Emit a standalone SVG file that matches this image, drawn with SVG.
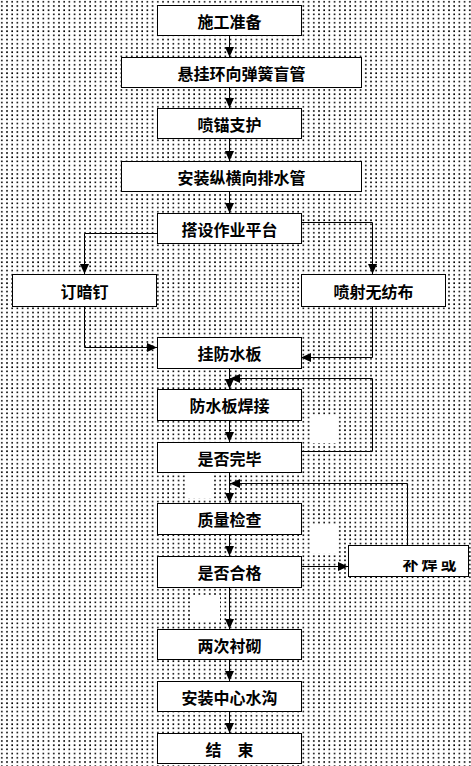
<svg xmlns="http://www.w3.org/2000/svg" width="471" height="766" viewBox="0 0 471 766">
<style>
.box{fill:#fff;stroke:#000;stroke-width:1}
.t{font-family:"Noto Sans CJK SC","Liberation Sans",sans-serif;font-size:16px;font-weight:bold;fill:#000;text-anchor:middle;dominant-baseline:central}
.ca{fill:none;stroke:#000;stroke-width:1;marker-end:url(#arr)}
.patch{fill:#fff}
</style>
<defs>
<pattern id="dots" x="0" y="0" width="5.2" height="4.2" patternUnits="userSpaceOnUse">
<rect x="1" y="1" width="1.6" height="1.6" fill="#000"/>
</pattern>
<marker id="arr" markerUnits="userSpaceOnUse" markerWidth="10" markerHeight="10" refX="10" refY="5" orient="auto" viewBox="0 0 10 10">
<path d="M0,0.5 L10,5 L0,9.5 z" fill="#000"/>
</marker>
<clipPath id="clipBu"><rect x="349" y="560" width="118" height="15"/></clipPath>
</defs>
<rect x="0" y="0" width="471" height="766" fill="#fff"/>
<rect x="0" y="0" width="471" height="766" fill="url(#dots)"/>
<rect class="patch" x="312" y="416" width="24" height="27"/>
<rect class="patch" x="187" y="472" width="27" height="26"/>
<rect class="patch" x="310" y="525" width="27" height="28"/>
<rect class="patch" x="193" y="595" width="27" height="27"/>
<g id="connectors">
<path class="ca" d="M229.5,35 V57"/>
<path class="ca" d="M229.5,87 V108"/>
<path class="ca" d="M229.5,139 V161"/>
<path class="ca" d="M229.5,191 V213"/>
<path class="ca" d="M157,233.5 H84.5 V274"/>
<path class="ca" d="M301,222.5 H372.5 V274"/>
<path class="ca" d="M84.5,306 V347.5 H157"/>
<path class="ca" d="M372.5,306 V357.5 H301"/>
<path class="ca" d="M229.5,368 V389"/>
<path class="ca" d="M229.5,420 V442"/>
<path class="ca" d="M301,451.5 H372.5 V378.5 H230"/>
<path class="ca" d="M229.5,472 V503"/>
<path class="ca" d="M407.5,545 V483.5 H230"/>
<path class="ca" d="M229.5,534 V556"/>
<path class="ca" d="M301,566.5 H348"/>
<path class="ca" d="M229.5,587 V629"/>
<path class="ca" d="M229.5,659 V681"/>
<path class="ca" d="M229.5,711 V733"/>
</g>
<g id="n1"><rect class="box" x="157.5" y="5.5" width="144" height="30"/><text class="t" x="229.5" y="21">施工准备</text></g>
<g id="n2"><rect class="box" x="121.5" y="57.5" width="240" height="30"/><text class="t" x="241.5" y="73">悬挂环向弹簧盲管</text></g>
<g id="n3"><rect class="box" x="157.5" y="108.5" width="144" height="30"/><text class="t" x="229.5" y="124">喷锚支护</text></g>
<g id="n4"><rect class="box" x="121.5" y="161.5" width="240" height="30"/><text class="t" x="241.5" y="177">安装纵横向排水管</text></g>
<g id="n5"><rect class="box" x="157.5" y="213.5" width="144" height="30"/><text class="t" x="229.5" y="229">搭设作业平台</text></g>
<g id="n6"><rect class="box" x="12.5" y="274.5" width="144" height="32"/><text class="t" x="84.5" y="291">订暗钉</text></g>
<g id="n7"><rect class="box" x="301.5" y="274.5" width="144" height="32"/><text class="t" x="373.5" y="291">喷射无纺布</text></g>
<g id="n8"><rect class="box" x="157.5" y="337.5" width="144" height="31"/><text class="t" x="229.5" y="353">挂防水板</text></g>
<g id="n9"><rect class="box" x="157.5" y="389.5" width="144" height="31"/><text class="t" x="229.5" y="405">防水板焊接</text></g>
<g id="n10"><rect class="box" x="157.5" y="442.5" width="144" height="30"/><text class="t" x="229.5" y="458">是否完毕</text></g>
<g id="n11"><rect class="box" x="157.5" y="503.5" width="144" height="31"/><text class="t" x="229.5" y="519">质量检查</text></g>
<g id="n12"><rect class="box" x="157.5" y="556.5" width="144" height="31"/><text class="t" x="229.5" y="572">是否合格</text></g>
<g id="n13"><rect class="box" x="348.5" y="545.5" width="120" height="31"/><text class="t" x="431" y="563" clip-path="url(#clipBu)" letter-spacing="3">补焊或</text></g>
<g id="n14"><rect class="box" x="157.5" y="629.5" width="144" height="30"/><text class="t" x="229.5" y="645">两次衬砌</text></g>
<g id="n15"><rect class="box" x="157.5" y="681.5" width="144" height="30"/><text class="t" x="229.5" y="697">安装中心水沟</text></g>
<g id="n16"><rect class="box" x="157.5" y="733.5" width="144" height="30"/><text class="t" x="229.5" y="749">结　束</text></g>
</svg>
